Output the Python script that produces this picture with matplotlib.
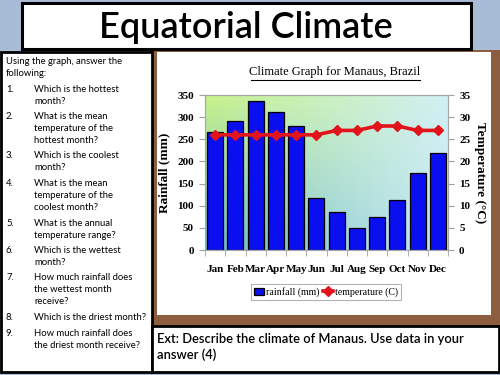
import numpy as np
import matplotlib
matplotlib.use("Agg")
import matplotlib.pyplot as plt
from matplotlib.patches import Rectangle
from matplotlib.lines import Line2D

# data
months = ["Jan", "Feb", "Mar", "Apr", "May", "Jun", "Jul", "Aug", "Sep", "Oct", "Nov", "Dec"]
rainfall = [266, 292, 336, 312, 280, 117, 85, 49, 74, 113, 175, 220]
temperature = [26, 26, 26, 26, 26, 26, 27, 27, 28, 28, 27, 27]
rain_ticks = [0, 50, 100, 150, 200, 250, 300, 350]
temp_ticks = [0, 5, 10, 15, 20, 25, 30, 35]

slide_title = "Equatorial Climate"
chart_title = "Climate Graph for Manaus, Brazil"
intro_lines = ["Using the graph, answer the", "following:"]
questions = [
    ("1.", ["Which is the hottest", "month?"]),
    ("2.", ["What is the mean", "temperature of the", "hottest month?"]),
    ("3.", ["Which is the coolest", "month?"]),
    ("4.", ["What is the mean", "temperature of the", "coolest month?"]),
    ("5.", ["What is the annual", "temperature range?"]),
    ("6.", ["Which is the wettest", "month?"]),
    ("7.", ["How much rainfall does", "the wettest month", "receive?"]),
    ("8.", ["Which is the driest month?"]),
    ("9.", ["How much rainfall does", "the driest month receive?"]),
]
ext_lines = ["Ext: Describe the climate of Manaus. Use data in your", "answer (4)"]

W, H = 500, 375
CHART_FONT = "Liberation Serif"


def fx(x):
    return x / W


def fy(y):
    return 1 - y / H


def box(fig, x0, y0, x1, y1, face, edge=None, lw=0, z=-1):
    r = Rectangle((fx(x0), fy(y1)), fx(x1) - fx(x0), fy(y0) - fy(y1),
                  transform=fig.transFigure, facecolor=face,
                  edgecolor=edge if edge else face, linewidth=lw, zorder=z)
    fig.add_artist(r)


fig = plt.figure(figsize=(5, 3.75), dpi=100)
fig.patch.set_facecolor("#a9bcd6")

# slide background pieces
box(fig, 150, 50, 500, 328, "#8c5d3f", z=-3)
box(fig, 157, 52, 491, 315, "white", z=-2)
box(fig, 22, 3, 471, 49, "white", "black", 2.2)
box(fig, 1, 52, 152, 372, "white", "black", 2.0)
box(fig, 152, 326, 499, 372, "white", "black", 2.0)

fig.text(fx(246), fy(27), slide_title, ha="center", va="center",
         fontsize=26, family="Lato", fontweight="semibold", color="black")

# left question panel
y = 62
for line in intro_lines:
    fig.text(fx(6), fy(y), line, fontsize=6.8, family="Lato", va="center")
    y += 11.5
y = 89
for num, lines in questions:
    fig.text(fx(6), fy(y), num, fontsize=6.8, family="Lato", va="center")
    for line in lines:
        fig.text(fx(34), fy(y), line, fontsize=6.8, family="Lato", va="center")
        y += 12
    y += 3.5

for i, line in enumerate(ext_lines):
    fig.text(fx(157), fy(339 + 16 * i), line, fontsize=9.3, family="Lato",
             fontweight="semibold", va="center")

# chart
ax = fig.add_axes([fx(205), fy(250), fx(448) - fx(205), fy(95) - fy(250)])
x = np.arange(len(months))

# plot background gradient
gy, gx = np.mgrid[0:1:60j, 0:1:60j]
tl = np.array([0.78, 0.95, 0.55])
tr = np.array([0.82, 0.94, 0.96])
bl = np.array([0.42, 0.72, 0.76])
br = np.array([0.78, 0.92, 0.95])
grad = (tl * ((1 - gx) * (1 - gy))[..., None] + tr * (gx * (1 - gy))[..., None]
        + bl * ((1 - gx) * gy)[..., None] + br * (gx * gy)[..., None])
ax.imshow(grad, extent=[-0.5, 11.5, 0, 350], aspect="auto", zorder=0)

ax.bar(x, rainfall, width=0.8, color="#0a0ff0", edgecolor="black", linewidth=0.9,
       zorder=2, label="rainfall (mm)")
ax.set_xlim(-0.5, 11.5)
ax.set_ylim(0, 350)
ax.set_yticks(rain_ticks)
ax.set_xticks(x)
ax.set_xticklabels(months)
ax.set_xticks(np.arange(-0.5, 12, 1), minor=True)
ax.tick_params(axis="x", which="major", length=0, pad=11)
ax.tick_params(axis="x", which="minor", length=4, color="#a0a0a0")
ax.tick_params(axis="y", length=4, color="#a0a0a0", pad=4)
for lab in ax.get_xticklabels() + ax.get_yticklabels():
    lab.set_family(CHART_FONT)
    lab.set_fontsize(8)
    lab.set_fontweight("bold")
ax.set_ylabel("Rainfall (mm)", family=CHART_FONT, fontsize=9.5,
              fontweight="bold", labelpad=5)

ax2 = ax.twinx()
ax2.plot(x, temperature, color="#e3131b", linewidth=2.6, marker="D", markersize=5,
         label="temperature (C)", zorder=3)
ax2.set_ylim(0, 35)
ax2.set_yticks(temp_ticks)
ax2.tick_params(axis="y", length=4, color="#a0a0a0", pad=4)
for lab in ax2.get_yticklabels():
    lab.set_family(CHART_FONT)
    lab.set_fontsize(8)
    lab.set_fontweight("bold")
ax2.set_ylabel("Temperature (°C)", family=CHART_FONT, fontsize=9.5,
               fontweight="bold", rotation=270, labelpad=11)

for a in (ax, ax2):
    for s in a.spines.values():
        s.set_color("#a8a8a8")
        s.set_linewidth(0.8)

fig.text(fx(335), fy(72), chart_title, ha="center", va="center",
         family=CHART_FONT, fontsize=9)
fig.add_artist(Line2D([fx(251), fx(420)], [fy(79.5), fy(79.5)], color="black",
                      linewidth=0.8, transform=fig.transFigure))

h1, l1 = ax.get_legend_handles_labels()
h2, l2 = ax2.get_legend_handles_labels()
leg = fig.legend(h1 + h2, l1 + l2, loc="center", bbox_to_anchor=(fx(326), fy(292)),
                 ncol=2, frameon=True, fancybox=False,
                 handlelength=1.0, handletextpad=0.2, columnspacing=0.4,
                 borderpad=0.35, prop={"family": CHART_FONT, "size": 7.1})
leg.get_frame().set_edgecolor("#a0a0a0")
leg.get_frame().set_linewidth(0.8)

fig.savefig("out.png", dpi=100)
